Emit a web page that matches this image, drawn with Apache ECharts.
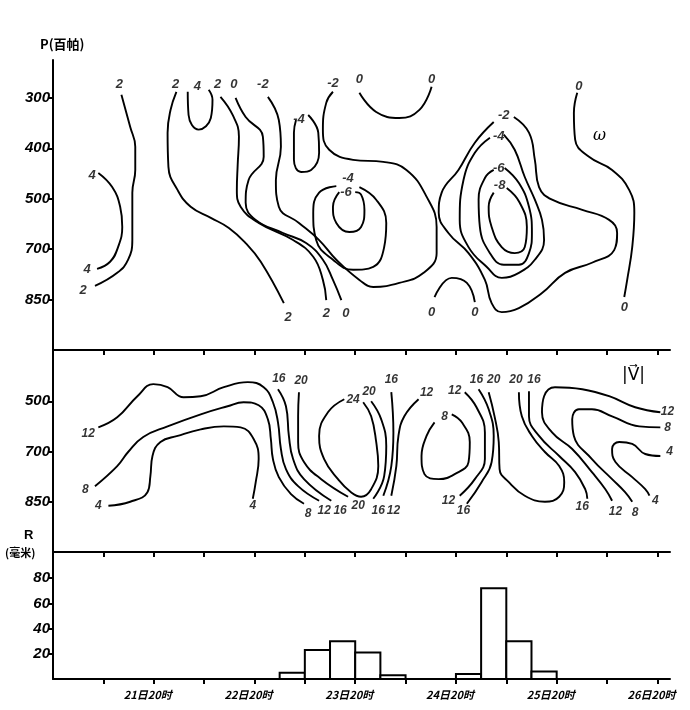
<!DOCTYPE html>
<html>
<head>
<meta charset="utf-8">
<title>ω、|V| 时间剖面与降水</title>
<script src="https://cdn.jsdelivr.net/npm/echarts@6.0.0/dist/echarts.min.js"></script>
<style>
  html, body { margin: 0; padding: 0; background: #fff; }
  #chart { width: 690px; height: 710px; }
</style>
</head>
<body>
<div id="chart"></div>
<script>
// 横坐标: 从20日20时起算的小时数, 每12小时一个刻度
var tickHours = [12, 24, 36, 48, 60, 72, 84, 96, 108, 120, 132, 144]
var dayHours = [24, 48, 72, 96, 120, 144]
var dayLabels = ['21日20时', '22日20时', '23日20时', '24日20时', '25日20时', '26日20时']

// 纵坐标: 气压层 (按层序号等距排列)
var levelIndex = [0, 1, 2, 3, 4]
var levelNames = ['300', '400', '500', '700', '850']
var speedLevelIndex = [2, 3, 4]

// 垂直速度 ω 等值线 [小时, 层序号]
var w_p2_a = [[16.3,-0.06],[18.4,0.58],[19.6,0.97],[19.6,1.43],[18.9,1.88],[18.9,2.82],[17.9,3.21],[15.3,3.47],[10.0,3.73]]
var w_p4_a = [[10.8,1.49],[14.1,1.77],[16.0,2.16],[16.5,2.56],[15.5,2.96],[13.6,3.25],[10.5,3.39]]
var w_p2_b = [[29.4,-0.12],[28.0,0.24],[27.3,0.69],[27.5,1.37],[29.7,1.83],[32.8,2.16],[37.6,2.38],[41.9,2.58],[45.9,2.88],[49.5,3.25],[55.0,4.07]]
var w_p4_b = [[32.1,-0.12],[32.3,0.34],[34.7,0.63],[37.6,0.40],[38.0,0.04],[37.1,-0.16]]
var w_p2_c = [[39.9,-0.02],[42.8,0.34],[44.3,0.77],[44.0,1.33],[43.8,1.83],[44.7,2.16],[49.0,2.48],[57.2,2.82],[62.0,3.15],[64.3,3.61],[65.1,4.01]]
var w_0_a = [[43.5,0],[45.9,0.38],[50.0,0.77],[50.2,1.17],[46.6,1.63],[45.9,2.08],[48.3,2.42],[54.8,2.68],[60.3,2.88],[64.3,3.21],[66.7,3.61],[68.7,4.01]]
var w_m2_a = [[51.2,-0.02],[53.8,0.44],[54.3,0.97],[53.1,1.63],[53.8,2.16],[58.6,2.48],[63.4,2.82],[67.5,3.21],[73.0,3.61],[76.3,3.75],[82.5,3.67],[88.3,3.47],[91.4,3.08],[91.4,2.56],[89.0,1.96],[84.2,1.43],[78.7,1.27],[71.5,1.23],[65.8,1.03],[64.3,0.63],[65.1,0.10],[66.7,-0.12]]
var w_m4_a = [[60.8,0.34],[63.2,0.69],[63.4,1.09],[61.5,1.43],[59.1,1.47],[57.4,1.23],[57.4,0.69],[57.9,0.44]]
var w_m4_b = [[67.5,1.75],[63.4,1.88],[62.0,2.28],[62.7,2.82],[66.7,3.21],[71.5,3.41],[76.3,3.35],[78.9,2.96],[79.4,2.48],[77.0,2.02],[73.0,1.77]]
var w_m6_a = [[68.2,1.87],[66.7,2.16],[67.5,2.48],[70.6,2.66],[73.4,2.56],[74.2,2.22],[73.4,1.92],[72.0,1.87]]
var w_0_b = [[73.0,-0.10],[77.0,0.28],[82.5,0.40],[87.3,0.24],[90.2,-0.22]]
var w_0_c = [[90.9,3.95],[95.0,3.57],[98.6,3.67],[100.5,4.05]]
var w_m2_b = [[109.8,0.38],[113.4,0.69],[114.8,1.23],[115.8,1.77],[118.9,2.02],[126.1,2.22],[132.5,2.42],[134.4,2.68],[133.7,3.02],[128.4,3.27],[122.0,3.47],[116.5,3.87],[111.0,4.17],[106.9,4.25],[104.5,4.07],[102.9,3.61],[99.0,3.08],[94.2,2.68],[91.9,2.28],[92.6,1.88],[96.6,1.43],[100.5,0.89],[105.0,0.48]]
var w_m4_c = [[107.4,0.73],[110.0,1.03],[112.4,1.57],[114.8,2.02],[116.5,2.42],[117.0,2.82],[114.8,3.21],[111.0,3.47],[106.9,3.57],[103.3,3.35],[99.0,2.96],[96.9,2.42],[97.8,1.63],[100.5,1.09],[104.1,0.79]]
var w_m6_b = [[107.6,1.39],[111.0,1.69],[113.4,2.16],[114.1,2.68],[113.4,3.08],[111.0,3.31],[107.4,3.31],[104.1,3.08],[101.7,2.56],[101.4,2.02],[102.9,1.59],[105.0,1.43]]
var w_m8_a = [[108.1,1.79],[111.2,2.08],[112.9,2.56],[112.4,2.96],[110.0,3.08],[106.9,2.96],[104.5,2.56],[103.8,2.16],[105.0,1.88]]
var w_0_d = [[124.9,-0.10],[124.1,0.30],[124.4,0.83],[127.7,1.17],[133.2,1.43],[137.3,1.83],[138.5,2.28],[138.0,2.96],[136.8,3.61],[136.1,3.95]]

// ω 等值线数值标注 [小时, 层序号, 文字]
var omegaLabels = [
	[15.8,-0.26,'2'],[29.2,-0.26,'2'],[34.4,-0.22,'4'],[39.2,-0.26,'2'],[43.1,-0.26,'0'],[50.0,-0.26,'-2'],
	[66.7,-0.28,'-2'],[73.0,-0.36,'0'],[90.2,-0.36,'0'],[125.3,-0.22,'0'],[58.6,0.42,'-4'],
	[70.3,1.59,'-4'],[69.8,1.88,'-6'],[107.4,0.34,'-2'],[106.2,0.77,'-4'],[106.2,1.39,'-6'],[106.4,1.73,'-8'],
	[9.3,1.53,'4'],[8.1,3.41,'4'],[7.2,3.81,'2'],
	[56.0,4.36,'2'],[65.1,4.27,'2'],[69.8,4.27,'0'],[90.2,4.25,'0'],[100.5,4.25,'0'],[136.1,4.15,'0']
]

// 全风速 |V| 等值线 [小时, 层序号]
var v_12_a = [[10.8,2.52],[15.3,2.32],[20.1,1.90],[23.9,1.66],[27.3,1.72],[31.1,1.92],[35.2,1.90],[40.7,1.72],[46.4,1.62],[50.2,1.72],[52.4,2.02],[53.6,2.42],[54.3,2.95],[55.5,3.35],[58.4,3.69],[63.4,3.98]]
var v_8_a = [[10.0,3.69],[15.3,3.29],[17.9,3.01],[21.5,2.71],[27.3,2.50],[35.2,2.26],[41.6,2.10],[45.4,2.02],[49.0,2.08],[51.2,2.36],[51.9,2.75],[52.4,3.15],[53.8,3.51],[56.7,3.85],[59.8,4.04]]
var v_4_a = [[13.2,4.08],[18.4,4.00],[22.5,3.81],[23.2,3.49],[23.7,3.09],[25.6,2.81],[29.7,2.69],[35.2,2.56],[40.7,2.50],[44.7,2.52],[47.8,2.75],[49.0,3.15],[48.3,3.61],[47.6,3.94]]
var v_16_a = [[53.6,1.76],[55.5,2.10],[56.2,2.69],[57.2,3.15],[59.8,3.55],[66.3,3.98]]
var v_20_a = [[58.6,1.82],[58.4,2.30],[58.4,2.81],[59.8,3.21],[63.9,3.55],[70.3,3.90]]
var v_24_a = [[69.4,1.96],[65.5,2.22],[63.4,2.69],[64.6,3.15],[67.9,3.55],[71.0,3.81],[73.4,3.90],[75.8,3.75],[77.5,3.29],[77.0,2.81],[75.8,2.30],[73.9,2.02]]
var v_20_b = [[75.8,2.00],[78.2,2.36],[79.4,2.89],[78.9,3.49],[76.3,3.94]]
var v_16_b = [[80.6,1.82],[81.1,2.62],[80.6,3.29],[78.7,3.88]]
var v_12_b = [[87.1,1.96],[83.7,2.30],[82.3,2.69],[81.8,3.29],[80.6,3.88]]
var v_8_b = [[95.0,2.26],[97.4,2.42],[99.3,2.81],[99.0,3.21],[95.7,3.45],[91.9,3.55],[88.5,3.45],[87.8,3.09],[89.0,2.69],[90.9,2.42]]
var v_12_c = [[98.1,1.82],[100.9,2.12],[102.9,2.62],[102.9,3.15],[100.5,3.55],[96.9,3.88]]
var v_16_c = [[101.4,1.76],[103.8,2.16],[105.0,2.69],[104.5,3.21],[102.1,3.61],[98.6,4.04]]
var v_20_c = [[103.8,1.82],[105.2,2.30],[106.2,2.81],[106.4,3.35],[108.6,3.61],[112.4,3.88],[117.2,4.00],[120.6,3.90],[121.8,3.61],[120.6,3.29],[117.2,3.01],[114.1,2.69],[111.7,2.30],[111.0,1.82]]
var v_16_d = [[113.4,1.80],[113.4,2.30],[115.8,2.69],[120.6,3.09],[124.4,3.41],[126.8,3.75],[127.3,3.94]]
var v_12_d = [[144.7,2.22],[138.7,2.12],[132.5,1.90],[126.1,1.76],[119.6,1.72],[117.0,1.90],[116.5,2.22],[118.9,2.62],[123.7,2.95],[128.4,3.41],[131.6,3.75],[133.2,3.98]]
var v_8_c = [[144.7,2.52],[139.7,2.50],[133.2,2.30],[128.4,2.16],[125.3,2.16],[123.7,2.36],[124.1,2.69],[128.4,3.15],[133.2,3.55],[136.3,3.81],[138.0,4.00]]
var v_4_b = [[144.7,3.09],[141.1,3.05],[138.0,2.85],[134.9,2.81],[133.2,2.95],[134.0,3.21],[138.0,3.51],[141.1,3.75],[142.1,3.88]]

// |V| 等值线数值标注
var speedLabels = [
	[8.4,2.65,'12'],[7.7,3.75,'8'],[10.8,4.08,'4'],[47.6,4.08,'4'],
	[53.8,1.56,'16'],[59.1,1.60,'20'],[60.8,4.24,'8'],[64.6,4.18,'12'],[68.4,4.18,'16'],[72.7,4.08,'20'],
	[71.5,1.96,'24'],[75.3,1.80,'20'],[80.6,1.58,'16'],[89.0,1.82,'12'],[77.5,4.18,'16'],[81.1,4.18,'12'],
	[93.3,2.30,'8'],[95.7,1.78,'12'],[100.9,1.58,'16'],[105.0,1.58,'20'],[110.3,1.58,'20'],[114.6,1.58,'16'],
	[94.2,3.98,'12'],[97.8,4.18,'16'],[126.1,4.10,'16'],[134.0,4.20,'12'],[138.7,4.22,'8'],[143.5,3.98,'4'],
	[146.4,2.20,'12'],[146.4,2.52,'8'],[146.9,3.01,'4']
]

// 6小时降水量 R (毫米)
var rainFrom = [54, 60, 66, 72, 78, 96, 102, 108, 114]
var rainTo = [60, 66, 72, 78, 84, 102, 108, 114, 120]
var rainMM = [5, 23, 30, 21, 3, 4, 72, 30, 6]

var omegaLines = [w_p2_a, w_p4_a, w_p2_b, w_p4_b, w_p2_c, w_0_a, w_m2_a, w_m4_a, w_m4_b, w_m6_a, w_0_b, w_0_c, w_m2_b, w_m4_c, w_m6_b, w_m8_a, w_0_d]
var speedLines = [v_12_a, v_8_a, v_4_a, v_16_a, v_20_a, v_24_a, v_20_b, v_16_b, v_12_b, v_8_b, v_12_c, v_16_c, v_20_c, v_16_d, v_12_d, v_8_c, v_4_b]

var numFont = 'Liberation Sans'
var cjkFont = 'Noto Sans CJK SC'

// 生成一条等值线
function contour(pts, grid) {
	return {
		type: 'line', xAxisIndex: grid, yAxisIndex: grid,
		data: pts, smooth: 0.45, showSymbol: false, silent: true,
		lineStyle: { color: '#000', width: 1.9 }
	}
}
// 生成数值标注 (透明的点, 只显示文字)
function tags(list, grid, size) {
	return {
		type: 'scatter', xAxisIndex: grid, yAxisIndex: grid, silent: true,
		symbolSize: 1, itemStyle: { color: 'rgba(0,0,0,0)' },
		data: list.map(function(a) { return { value: [a[0], a[1]], name: a[2] } }),
		label: {
			show: true, position: 'inside', formatter: '{b}', color: '#000',
			fontFamily: numFont, fontStyle: 'italic', fontWeight: 'bold', fontSize: size
		}
	}
}
function xAxisFor(grid, withLabels) {
	return {
		type: 'value', gridIndex: grid, min: 0, max: 147, position: 'bottom',
		axisLine: { show: true, onZero: false, lineStyle: { color: '#000', width: 2 } },
		axisTick: { show: true, customValues: tickHours, length: 5, lineStyle: { color: '#000', width: 2 } },
		axisLabel: withLabels ? {
			show: true, customValues: dayHours, margin: 10, color: '#000', padding: [0, 12, 0, 0],
			fontFamily: cjkFont, fontSize: 11, fontWeight: 'bold', fontStyle: 'italic',
			formatter: function(v) { return dayLabels[dayHours.indexOf(v)] }
		} : { show: false },
		splitLine: { show: false }
	}
}
function yAxisFor(grid, min, max, inverse, ticks, fmt) {
	return {
		type: 'value', gridIndex: grid, min: min, max: max, inverse: inverse,
		axisLine: { show: true, onZero: false, lineStyle: { color: '#000', width: 2 } },
		axisTick: { show: true, customValues: ticks, length: 5, lineStyle: { color: '#000', width: 2 } },
		axisLabel: {
			show: true, customValues: ticks, margin: 3, color: '#000',
			fontFamily: numFont, fontWeight: 'bold', fontStyle: 'italic', fontSize: 15,
			formatter: fmt
		},
		splitLine: { show: false }
	}
}

var series = []
omegaLines.forEach(function(p) { series.push(contour(p, 0)) })
speedLines.forEach(function(p) { series.push(contour(p, 1)) })
series.push(tags(omegaLabels, 0, 13))
series.push(tags(speedLabels, 1, 12))
// 降水直方图
series.push({
	type: 'custom', xAxisIndex: 2, yAxisIndex: 2, silent: true,
	data: rainMM.map(function(v, i) { return [rainFrom[i], rainTo[i], v] }),
	renderItem: function(params, api) {
		var a = api.coord([api.value(0), api.value(2)])
		var b = api.coord([api.value(1), 0])
		return {
			type: 'rect',
			shape: { x: a[0], y: a[1], width: b[0] - a[0], height: b[1] - a[1] },
			style: { fill: '#fff', stroke: '#000', lineWidth: 2 }
		}
	}
})

var levelFmt = function(v) { return levelNames[levelIndex.indexOf(v)] }

var option = {
	animation: false,
	backgroundColor: '#fff',
	grid: [
		{ left: 53, right: 20, top: 60, height: 290 },
		{ left: 53, right: 20, top: 351, height: 201 },
		{ left: 53, right: 20, top: 553, height: 126 }
	],
	xAxis: [xAxisFor(0, false), xAxisFor(1, false), xAxisFor(2, true)],
	yAxis: [
		yAxisFor(0, -0.75, 5, true, levelIndex, levelFmt),
		yAxisFor(1, 1, 5, true, speedLevelIndex, levelFmt),
		yAxisFor(2, 0, 100, false, [20, 40, 60, 80], function(v) { return String(v) })
	],
	graphic: [
		{ type: 'text', left: 40, top: 38, style: { text: 'P(百帕)', fill: '#000', font: 'bold 13px "Noto Sans CJK SC"' } },
		{ type: 'text', left: 24, top: 529, style: { text: 'R', fill: '#000', font: 'bold 13px "Liberation Sans"' } },
		{ type: 'text', left: 5, top: 547, style: { text: '(毫米)', fill: '#000', font: 'bold 11px "Noto Sans CJK SC"' } },
		{ type: 'text', left: 593, top: 128, style: { text: 'ω', fill: '#000', font: 'italic 16px "DejaVu Serif"' } },
		{ type: 'text', left: 622, top: 367, style: { text: '|V⃗|', fill: '#000', font: '17px "DejaVu Sans"' } }
	],
	series: series
}

var myChart = echarts.init(document.getElementById('chart'), null, { renderer: 'canvas' })
myChart.setOption(option)
</script>
</body>
</html>
